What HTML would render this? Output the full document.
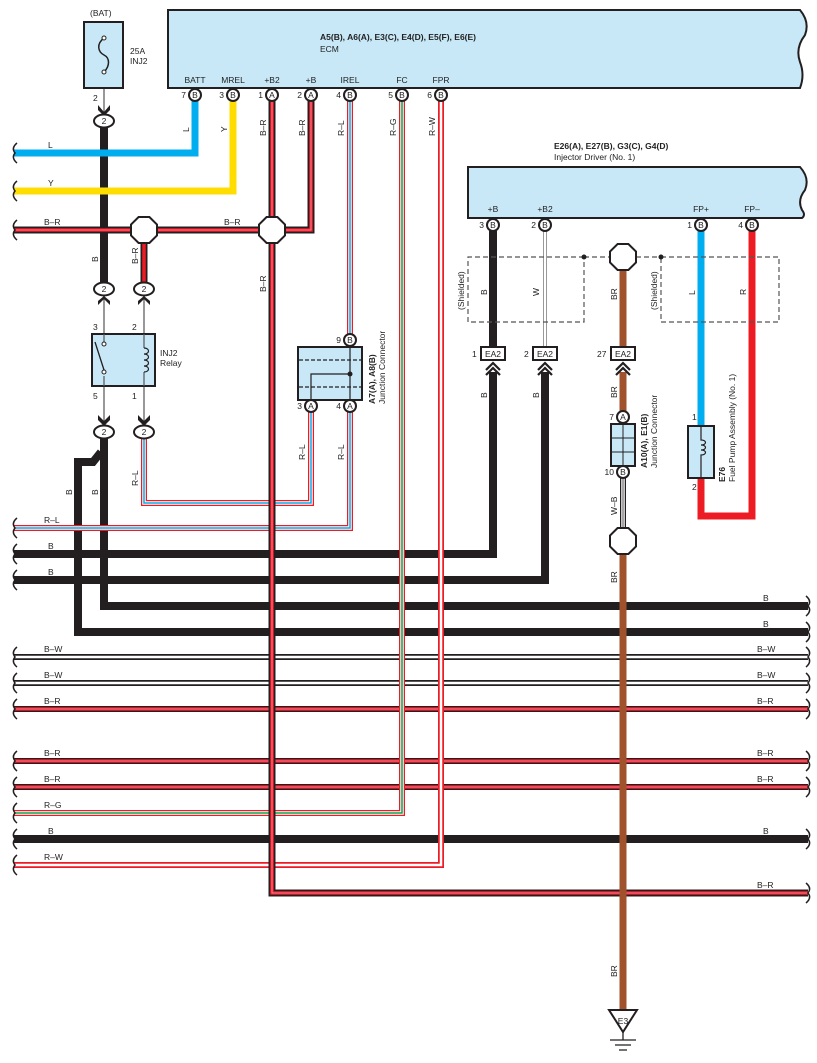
<!DOCTYPE html>
<html><head><meta charset="utf-8"><style>
body{margin:0;background:#fff}
svg{display:block}
text{font-family:"Liberation Sans",sans-serif;font-size:8.5px;fill:#222}
.b{font-weight:bold}
</style></head><body>
<svg width="817" height="1063" viewBox="0 0 817 1063" xmlns="http://www.w3.org/2000/svg">
<defs>
<path id="hBW1" d="M14,657 H808"/><path id="hBW2" d="M14,683 H808"/>
<path id="hBR1" d="M14,709 H808"/><path id="hBR2" d="M14,761 H808"/><path id="hBR3" d="M14,787 H808"/>
<path id="brtop" d="M14,230 H311 V101"/>
<path id="br272" d="M272,101 V893 H808"/>
<path id="br144" d="M144,230 V283"/>
<path id="rl1" d="M144,438 V503 H311 V412"/>
<path id="rl2a" d="M350,101 V334"/>
<path id="rl2b" d="M350,412 V528 H14"/>
<path id="rg" d="M402,101 V813 H14"/>
<path id="rw" d="M441,101 V865 H14"/>
<path id="w1" d="M545,231 V347"/>
<path id="wb" d="M623,478 V530"/>
</defs>
<g fill="none" stroke-linejoin="miter">
<!-- horizontal bundles -->
<use href="#hBW1" stroke="#231f20" stroke-width="6"/><use href="#hBW1" stroke="#fff" stroke-width="2.5"/>
<use href="#hBW2" stroke="#231f20" stroke-width="6"/><use href="#hBW2" stroke="#fff" stroke-width="2.5"/>
<use href="#hBR1" stroke="#231f20" stroke-width="6"/><use href="#hBR1" stroke="#ed1c24" stroke-width="3.5"/><use href="#hBR1" stroke="#f9b" stroke-width="0.8"/>
<use href="#hBR2" stroke="#231f20" stroke-width="6"/><use href="#hBR2" stroke="#ed1c24" stroke-width="3.5"/><use href="#hBR2" stroke="#f9b" stroke-width="0.8"/>
<use href="#hBR3" stroke="#231f20" stroke-width="6"/><use href="#hBR3" stroke="#ed1c24" stroke-width="3.5"/><use href="#hBR3" stroke="#f9b" stroke-width="0.8"/>
<path d="M14,839 H808" stroke="#231f20" stroke-width="8"/>
<!-- B thick lines -->
<path d="M104,127 V283" stroke="#231f20" stroke-width="8"/>
<path d="M104,438 V606 H808" stroke="#231f20" stroke-width="8"/>
<path d="M101,452 L93,462 H78 V632 H808" stroke="#231f20" stroke-width="8"/>
<path d="M493,231 V347" stroke="#231f20" stroke-width="8"/>
<path d="M493,372 V554 H14" stroke="#231f20" stroke-width="8"/>
<path d="M545,372 V580 H14" stroke="#231f20" stroke-width="8"/>
<!-- L, Y -->
<path d="M195,101 V153 H14" stroke="#00aeef" stroke-width="7"/>
<path d="M233,101 V191 H14" stroke="#ffdd00" stroke-width="7"/>
<!-- R-L -->
<use href="#rl1" stroke="#ed1c24" stroke-width="6"/><use href="#rl1" stroke="#fff" stroke-width="3.5"/><use href="#rl1" stroke="#00aeef" stroke-width="1.5"/>
<use href="#rl2a" stroke="#ed1c24" stroke-width="6"/><use href="#rl2a" stroke="#fff" stroke-width="3.5"/><use href="#rl2a" stroke="#00aeef" stroke-width="1.5"/>
<use href="#rl2b" stroke="#ed1c24" stroke-width="6"/><use href="#rl2b" stroke="#fff" stroke-width="3.5"/><use href="#rl2b" stroke="#00aeef" stroke-width="1.5"/>
<!-- R-G, R-W -->
<use href="#rg" stroke="#ed1c24" stroke-width="6"/><use href="#rg" stroke="#fff" stroke-width="3.5"/><use href="#rg" stroke="#00a651" stroke-width="1.5"/>
<use href="#rw" stroke="#ed1c24" stroke-width="6"/><use href="#rw" stroke="#fff" stroke-width="2.5"/>
<!-- B-R -->
<use href="#brtop" stroke="#231f20" stroke-width="7"/><use href="#brtop" stroke="#ed1c24" stroke-width="3.5"/><use href="#brtop" stroke="#f9b" stroke-width="0.8"/>
<use href="#br144" stroke="#231f20" stroke-width="7"/><use href="#br144" stroke="#ed1c24" stroke-width="3.5"/>
<use href="#br272" stroke="#231f20" stroke-width="7"/><use href="#br272" stroke="#ed1c24" stroke-width="3.5"/><use href="#br272" stroke="#f9b" stroke-width="0.8"/>
<!-- W thin -->
<use href="#w1" stroke="#777" stroke-width="4"/><use href="#w1" stroke="#fff" stroke-width="2.5"/>
<use href="#wb" stroke="#231f20" stroke-width="6"/><use href="#wb" stroke="#fff" stroke-width="3.5"/><use href="#wb" stroke="#231f20" stroke-width="0.8"/>
<!-- BR -->
<path d="M623,270 V347 M623,372 V411 M623,554 V1012" stroke="#a0522d" stroke-width="7"/>
<!-- fuel pump -->
<path d="M701,231 V426" stroke="#00aeef" stroke-width="7"/>
<path d="M701,478 V516 H752 V231" stroke="#ed1c24" stroke-width="7"/>
<!-- relay thin wires -->
<path d="M104,295 V334 M144,295 V334 M104,386 V426 M144,386 V426 M104,88 V112" stroke="#555" stroke-width="1.2"/>
</g>
<!-- arrowheads -->
<g fill="#231f20">
<path d="M98,105 L104,112 L110,105 L110,110 L104,116 L98,110Z"/>
<path d="M98,305 L104,299 L110,305 L110,301 L104,296 L98,301Z"/>
<path d="M138,305 L144,299 L150,305 L150,301 L144,296 L138,301Z"/>
<path d="M98,415 L104,421 L110,415 L110,420 L104,426 L98,420Z"/>
<path d="M138,415 L144,421 L150,415 L150,420 L144,426 L138,420Z"/>
</g>
<g fill="none" stroke="#231f20" stroke-width="2.2">
<path d="M486,370 L493,363 L500,370 M486,375 L493,368 L500,375"/>
<path d="M538,370 L545,363 L552,370 M538,375 L545,368 L552,375"/>
<path d="M616,370 L623,363 L630,370 M616,375 L623,368 L630,375"/>
</g>
<!-- wavy ends -->
<g fill="none" stroke="#231f20" stroke-width="1.5">
<path d="M17,143 Q11,148 15,153 Q11,158 17,163"/>
<path d="M17,181 Q11,186 15,191 Q11,196 17,201"/>
<path d="M17,220 Q11,225 15,230 Q11,235 17,240"/>
<path d="M17,518 Q11,523 15,528 Q11,533 17,538"/>
<path d="M17,544 Q11,549 15,554 Q11,559 17,564"/>
<path d="M17,570 Q11,575 15,580 Q11,585 17,590"/>
<path d="M17,647 Q11,652 15,657 Q11,662 17,667"/>
<path d="M17,673 Q11,678 15,683 Q11,688 17,693"/>
<path d="M17,699 Q11,704 15,709 Q11,714 17,719"/>
<path d="M17,751 Q11,756 15,761 Q11,766 17,771"/>
<path d="M17,777 Q11,782 15,787 Q11,792 17,797"/>
<path d="M17,803 Q11,808 15,813 Q11,818 17,823"/>
<path d="M17,829 Q11,834 15,839 Q11,844 17,849"/>
<path d="M17,855 Q11,860 15,865 Q11,870 17,875"/>
<path d="M806,596 Q812,601 808,606 Q812,611 806,616"/>
<path d="M806,622 Q812,627 808,632 Q812,637 806,642"/>
<path d="M806,647 Q812,652 808,657 Q812,662 806,667"/>
<path d="M806,673 Q812,678 808,683 Q812,688 806,693"/>
<path d="M806,699 Q812,704 808,709 Q812,714 806,719"/>
<path d="M806,751 Q812,756 808,761 Q812,766 806,771"/>
<path d="M806,777 Q812,782 808,787 Q812,792 806,797"/>
<path d="M806,829 Q812,834 808,839 Q812,844 806,849"/>
<path d="M806,883 Q812,888 808,893 Q812,898 806,903"/>
</g>
<!-- ECM -->
<path d="M168,10 H800 Q810,22 805,35 Q795,48 800,62 Q805,75 800,88 H168 Z" fill="#c8e8f7" stroke="#231f20" stroke-width="2"/>
<text x="320" y="40" class="b">A5(B), A6(A), E3(C), E4(D), E5(F), E6(E)</text>
<text x="320" y="52">ECM</text>
<g text-anchor="middle">
<text x="195" y="83">BATT</text><text x="233" y="83">MREL</text><text x="272" y="83">+B2</text><text x="311" y="83">+B</text><text x="350" y="83">IREL</text><text x="402" y="83">FC</text><text x="441" y="83">FPR</text>
</g>
<!-- Injector driver -->
<path d="M468,167 H800 Q810,178 805,190 Q797,200 802,210 Q806,215 802,218 H468 Z" fill="#c8e8f7" stroke="#231f20" stroke-width="2"/>
<text x="554" y="149" class="b">E26(A), E27(B), G3(C), G4(D)</text>
<text x="554" y="160">Injector Driver (No. 1)</text>
<g text-anchor="middle"><text x="493" y="212">+B</text><text x="545" y="212">+B2</text><text x="701" y="212">FP+</text><text x="752" y="212">FP–</text></g>
<!-- shields -->
<g fill="none" stroke="#555" stroke-width="1.2" stroke-dasharray="5,3">
<path d="M584,257 H468 V322 H584 Z"/><path d="M661,257 H779 V322 H661 Z"/>
<path d="M584,257 H610 M636,257 H661"/>
</g>
<circle cx="584" cy="257" r="2.5" fill="#231f20"/><circle cx="661" cy="257" r="2.5" fill="#231f20"/>
<!-- octagons -->
<g fill="#fff" stroke="#231f20" stroke-width="2">
<polygon points="138.6,217 149.4,217 157,224.6 157,235.4 149.4,243 138.6,243 131,235.4 131,224.6"/>
<polygon points="266.6,217 277.4,217 285,224.6 285,235.4 277.4,243 266.6,243 259,235.4 259,224.6"/>
<polygon points="617.6,244 628.4,244 636,251.6 636,262.4 628.4,270 617.6,270 610,262.4 610,251.6"/>
<polygon points="617.6,528 628.4,528 636,535.6 636,546.4 628.4,554 617.6,554 610,546.4 610,535.6"/>
</g>
<!-- fuse -->
<rect x="84" y="22" width="39" height="66" fill="#c8e8f7" stroke="#231f20" stroke-width="2"/>
<path d="M104,38 C96,44 98,52 104,55 C110,58 110,66 104,72" fill="none" stroke="#231f20" stroke-width="1.5"/>
<circle cx="104" cy="38" r="2" fill="#fff" stroke="#231f20"/><circle cx="104" cy="72" r="2" fill="#fff" stroke="#231f20"/>
<text x="90" y="16">(BAT)</text><text x="130" y="54">25A</text><text x="130" y="64">INJ2</text><text x="93" y="101">2</text>
<!-- relay -->
<rect x="92" y="334" width="63" height="52" fill="#c8e8f7" stroke="#231f20" stroke-width="2"/>
<path d="M104,334 V344 M104,376 V386 M144,334 V348 M144,372 V386" stroke="#555" stroke-width="1.2"/>
<line x1="95" y1="342" x2="104" y2="370" stroke="#231f20" stroke-width="1.3"/>
<circle cx="104" cy="344" r="2" fill="#fff" stroke="#231f20"/><circle cx="104" cy="372" r="2" fill="#fff" stroke="#231f20"/>
<path d="M144,348 c6,0 6,6 0,6 c6,0 6,6 0,6 c6,0 6,6 0,6 c6,0 6,6 0,6" fill="none" stroke="#231f20" stroke-width="1.2"/>
<text x="160" y="356">INJ2</text><text x="160" y="366">Relay</text>
<text x="93" y="330">3</text><text x="132" y="330">2</text><text x="93" y="399">5</text><text x="132" y="399">1</text>
<!-- oval connectors -->
<g fill="#fff" stroke="#231f20" stroke-width="2">
<ellipse cx="104" cy="121" rx="10" ry="6.5"/><ellipse cx="104" cy="289" rx="10" ry="6.5"/><ellipse cx="144" cy="289" rx="10" ry="6.5"/>
<ellipse cx="104" cy="432" rx="10" ry="6.5"/><ellipse cx="144" cy="432" rx="10" ry="6.5"/>
</g>
<g text-anchor="middle"><text x="104" y="124">2</text><text x="104" y="292">2</text><text x="144" y="292">2</text><text x="104" y="435">2</text><text x="144" y="435">2</text></g>
<!-- junction connector A7 -->
<rect x="298" y="347" width="64" height="53" fill="#c8e8f7" stroke="#231f20" stroke-width="2"/>
<path d="M299,360 H361 M299,387 H361" stroke="#231f20" stroke-dasharray="4,2" stroke-width="1.2"/>
<path d="M311,400 V374 H350 M350,347 V400" fill="none" stroke="#231f20" stroke-width="1.2"/>
<circle cx="350" cy="374" r="2.5" fill="#231f20"/>
<text transform="translate(375,404) rotate(-90)" class="b">A7(A), A8(B)</text>
<text transform="translate(385,404) rotate(-90)">Junction Connector</text>
<!-- EA2 -->
<g fill="#fff" stroke="#231f20" stroke-width="2">
<rect x="481" y="347" width="24" height="13"/><rect x="533" y="347" width="24" height="13"/><rect x="611" y="347" width="24" height="13"/>
</g>
<g text-anchor="middle"><text x="493" y="357">EA2</text><text x="545" y="357">EA2</text><text x="623" y="357">EA2</text></g>
<text x="472" y="357">1</text><text x="524" y="357">2</text><text x="597" y="357">27</text>
<!-- junction A10 -->
<rect x="611" y="424" width="24" height="42" fill="#c8e8f7" stroke="#231f20" stroke-width="2"/>
<path d="M623,424 V466 M611,438 H635 M611,452 H635" stroke="#231f20" stroke-width="1"/>
<text transform="translate(647,468) rotate(-90)" class="b">A10(A), E1(B)</text>
<text transform="translate(657,468) rotate(-90)">Junction Connector</text>
<!-- fuel pump -->
<rect x="688" y="426" width="26" height="52" fill="#c8e8f7" stroke="#231f20" stroke-width="2"/>
<path d="M701,426 V440 c6,0 6,5 0,5 c6,0 6,5 0,5 c6,0 6,5 0,5 V478" fill="none" stroke="#231f20" stroke-width="1.2"/>
<text x="692" y="420">1</text><text x="692" y="490">2</text>
<text transform="translate(725,482) rotate(-90)" class="b">E76</text>
<text transform="translate(735,482) rotate(-90)">Fuel Pump Assembly (No. 1)</text>
<!-- ground -->
<path d="M609,1010 H637 L623,1032 Z" fill="#fff" stroke="#231f20" stroke-width="2"/>
<text x="623" y="1024" text-anchor="middle">E3</text>
<path d="M623,1032 V1040 M610,1040 H636 M615,1045 H631 M619,1050 H627" stroke="#231f20" stroke-width="1.3"/>
<!-- pin circles -->
<g fill="#fff" stroke="#231f20" stroke-width="2">
<circle cx="195" cy="95" r="6"/><circle cx="233" cy="95" r="6"/><circle cx="272" cy="95" r="6"/><circle cx="311" cy="95" r="6"/><circle cx="350" cy="95" r="6"/><circle cx="402" cy="95" r="6"/><circle cx="441" cy="95" r="6"/>
<circle cx="493" cy="225" r="6"/><circle cx="545" cy="225" r="6"/><circle cx="701" cy="225" r="6"/><circle cx="752" cy="225" r="6"/>
<circle cx="350" cy="340" r="6"/><circle cx="311" cy="406" r="6"/><circle cx="350" cy="406" r="6"/>
<circle cx="623" cy="417" r="6"/><circle cx="623" cy="472" r="6"/>
</g>
<g text-anchor="middle" style="font-size:7.5px">
<text x="195" y="98">B</text><text x="233" y="98">B</text><text x="272" y="98">A</text><text x="311" y="98">A</text><text x="350" y="98">B</text><text x="402" y="98">B</text><text x="441" y="98">B</text>
<text x="493" y="228">B</text><text x="545" y="228">B</text><text x="701" y="228">B</text><text x="752" y="228">B</text>
<text x="350" y="343">B</text><text x="311" y="409">A</text><text x="350" y="409">A</text><text x="623" y="420">A</text><text x="623" y="475">B</text>
</g>
<g text-anchor="end">
<text x="186" y="98">7</text><text x="224" y="98">3</text><text x="263" y="98">1</text><text x="302" y="98">2</text><text x="341" y="98">4</text><text x="393" y="98">5</text><text x="432" y="98">6</text>
<text x="484" y="228">3</text><text x="536" y="228">2</text><text x="692" y="228">1</text><text x="743" y="228">4</text>
<text x="341" y="343">9</text><text x="302" y="409">3</text><text x="341" y="409">4</text><text x="614" y="420">7</text><text x="614" y="475">10</text>
</g>
<!-- horizontal labels -->
<g>
<text x="48" y="148">L</text><text x="48" y="186">Y</text><text x="44" y="225">B–R</text><text x="224" y="225">B–R</text>
<text x="44" y="523">R–L</text><text x="48" y="549">B</text><text x="48" y="575">B</text>
<text x="44" y="652">B–W</text><text x="44" y="678">B–W</text><text x="44" y="704">B–R</text><text x="44" y="756">B–R</text><text x="44" y="782">B–R</text><text x="44" y="808">R–G</text><text x="48" y="834">B</text><text x="44" y="860">R–W</text>
<text x="763" y="601">B</text><text x="763" y="627">B</text><text x="757" y="652">B–W</text><text x="757" y="678">B–W</text><text x="757" y="704">B–R</text><text x="757" y="756">B–R</text><text x="757" y="782">B–R</text><text x="763" y="834">B</text><text x="757" y="888">B–R</text>
</g>
<!-- vertical labels -->
<g>
<text transform="translate(189,132) rotate(-90)">L</text>
<text transform="translate(227,132) rotate(-90)">Y</text>
<text transform="translate(266,136) rotate(-90)">B–R</text>
<text transform="translate(305,136) rotate(-90)">B–R</text>
<text transform="translate(344,136) rotate(-90)">R–L</text>
<text transform="translate(396,136) rotate(-90)">R–G</text>
<text transform="translate(435,136) rotate(-90)">R–W</text>
<text transform="translate(98,262) rotate(-90)">B</text>
<text transform="translate(138,264) rotate(-90)">B–R</text>
<text transform="translate(266,292) rotate(-90)">B–R</text>
<text transform="translate(72,495) rotate(-90)">B</text>
<text transform="translate(98,495) rotate(-90)">B</text>
<text transform="translate(138,486) rotate(-90)">R–L</text>
<text transform="translate(305,460) rotate(-90)">R–L</text>
<text transform="translate(344,460) rotate(-90)">R–L</text>
<text transform="translate(487,295) rotate(-90)">B</text>
<text transform="translate(539,296) rotate(-90)">W</text>
<text transform="translate(617,300) rotate(-90)">BR</text>
<text transform="translate(464,310) rotate(-90)">(Shielded)</text>
<text transform="translate(657,310) rotate(-90)">(Shielded)</text>
<text transform="translate(695,295) rotate(-90)">L</text>
<text transform="translate(746,295) rotate(-90)">R</text>
<text transform="translate(487,398) rotate(-90)">B</text>
<text transform="translate(539,398) rotate(-90)">B</text>
<text transform="translate(617,398) rotate(-90)">BR</text>
<text transform="translate(617,515) rotate(-90)">W–B</text>
<text transform="translate(617,583) rotate(-90)">BR</text>
<text transform="translate(617,977) rotate(-90)">BR</text>
</g>
</svg>
</body></html>
